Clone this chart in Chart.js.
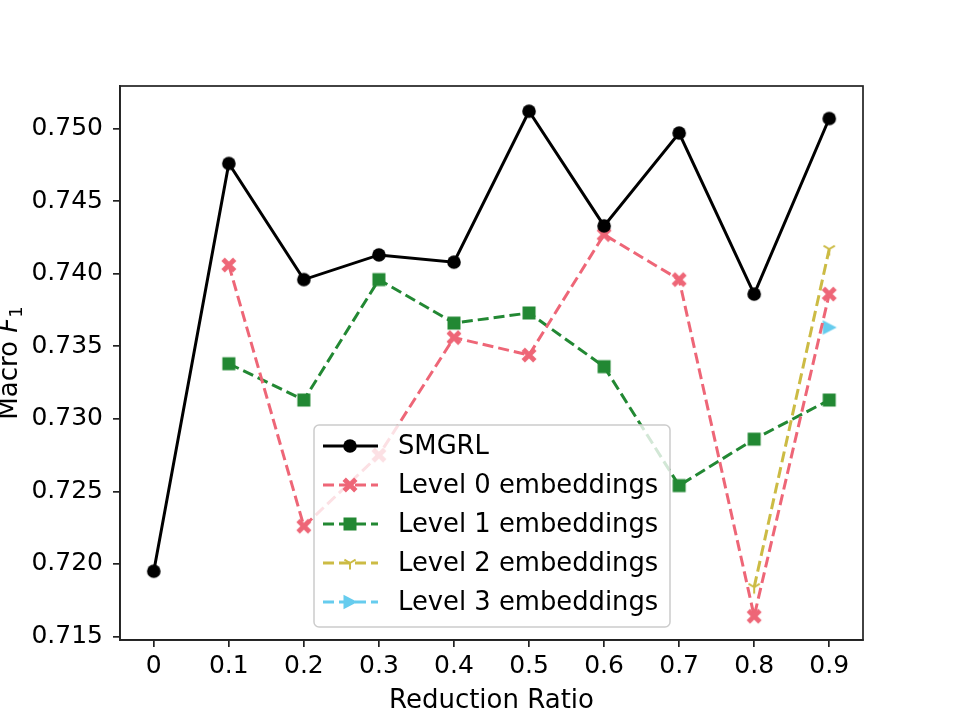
<!DOCTYPE html>
<html>
<head>
<meta charset="utf-8">
<script src="https://cdn.jsdelivr.net/npm/chart.js@4"></script>
<style>
  body { margin: 0; background: #fff; }
  #myChart { display: block; }
</style>
</head>
<body>
<canvas id="myChart" width="960" height="720"></canvas>
<script>
// values
const ratios = [0, 0.1, 0.2, 0.3, 0.4, 0.5, 0.6, 0.7, 0.8, 0.9];
const smgrl  = [0.7195, 0.7476, 0.7396, 0.7413, 0.7408, 0.7512, 0.7433, 0.7497, 0.7386, 0.7507];
const level0 = [null, 0.7406, 0.7226, 0.7275, 0.7356, 0.7344, 0.7427, 0.7396, 0.7164, 0.7386];
const level1 = [null, 0.7338, 0.7313, 0.7396, 0.7366, 0.7373, 0.7336, 0.7254, 0.7286, 0.7313];
const level2 = [null, null, null, null, null, null, null, null, 0.7184, 0.7417];
const level3 = [null, null, null, null, null, null, null, null, null, 0.7363];
const yTicks = [0.715, 0.720, 0.725, 0.730, 0.735, 0.740, 0.745, 0.750];
const seriesNames = ['SMGRL', 'Level 0 embeddings', 'Level 1 embeddings', 'Level 2 embeddings', 'Level 3 embeddings'];

const FONT = '"DejaVu Sans", sans-serif';

//little canvases used as point styles (matplotlib like markers)
function makeMarker(kind, color) {
    let c = document.createElement('canvas');
    c.width = 18; c.height = 18;
    let g = c.getContext('2d');
    g.fillStyle = color;
    g.strokeStyle = color;
    g.translate(9, 9);
    if (kind === 'circle') {
        g.beginPath();
        g.arc(0, 0, 6.8, 0, Math.PI * 2);
        g.fill();
    } else if (kind === 'square') {
        g.fillRect(-6.5, -6.5, 13, 13);
    } else if (kind === 'x') {
        g.lineWidth = 4.8;
        g.lineCap = 'butt';
        g.beginPath();
        g.moveTo(-5.8, -5.8); g.lineTo(5.8, 5.8);
        g.moveTo(5.8, -5.8); g.lineTo(-5.8, 5.8);
        g.stroke();
    } else if (kind === 'tri') {
        g.lineWidth = 2;
        g.beginPath();
        g.moveTo(0, 0); g.lineTo(0, 6.5);
        g.moveTo(0, 0); g.lineTo(-5.6, -3.3);
        g.moveTo(0, 0); g.lineTo(5.6, -3.3);
        g.stroke();
    } else if (kind === 'triright') {
        g.beginPath();
        g.moveTo(7.5, 0); g.lineTo(-6.5, -7.2); g.lineTo(-6.5, 7.2);
        g.closePath();
        g.fill();
    }
    return c;
}

const colors = ['#000000', '#EE6677', '#228833', '#CCBB44', '#66CCEE'];
const markers = [
    makeMarker('circle', colors[0]),
    makeMarker('x', colors[1]),
    makeMarker('square', colors[2]),
    makeMarker('tri', colors[3]),
    makeMarker('triright', colors[4])
];
const dashes = [[], [11, 5], [11, 5], [11, 5], [11, 5]];

function toPoints(values) {
    let pts = [];
    for (let i = 0; i < ratios.length; i++) {
        if (values[i] !== null) pts.push({ x: ratios[i], y: values[i] });
    }
    return pts;
}

const allSeries = [smgrl, level0, level1, level2, level3];
let datasets = [];
for (let i = 0; i < allSeries.length; i++) {
    datasets.push({
        label: seriesNames[i],
        data: toPoints(allSeries[i]),
        borderColor: colors[i],
        backgroundColor: colors[i],
        borderWidth: 3,
        borderDash: dashes[i],
        pointStyle: markers[i],
        pointRadius: 7,
        pointHoverRadius: 7,
        tension: 0,
        fill: false
    });
}

// frame, axis titles and the legend box
const extras = {
    id: 'extras',
    afterDatasetsDraw(chart) {
        const ctx = chart.ctx;
        const a = chart.chartArea;
        ctx.save();
        ctx.strokeStyle = '#222';
        ctx.lineWidth = 1.7;
        ctx.strokeRect(a.left, a.top, a.right - a.left, a.bottom - a.top);

        // legend
        let lx = 314, ly = 425, lw = 356, lh = 202;
        ctx.beginPath();
        ctx.roundRect(lx, ly, lw, lh, 5);
        ctx.fillStyle = 'rgba(255,255,255,0.8)';
        ctx.fill();
        ctx.strokeStyle = '#cccccc';
        ctx.lineWidth = 1.5;
        ctx.stroke();
        ctx.font = '25.8px ' + FONT;
        ctx.textBaseline = 'middle';
        ctx.textAlign = 'left';
        for (let i = 0; i < seriesNames.length; i++) {
            let yy = 446 + i * 39;
            ctx.strokeStyle = colors[i];
            ctx.lineWidth = 3;
            ctx.setLineDash(dashes[i]);
            ctx.beginPath();
            ctx.moveTo(323, yy);
            ctx.lineTo(378, yy);
            ctx.stroke();
            ctx.setLineDash([]);
            ctx.drawImage(markers[i], 350 - 9, yy - 9);
            ctx.fillStyle = '#000';
            ctx.fillText(seriesNames[i], 398, yy + 1);
        }

        // x title
        ctx.fillStyle = '#000';
        ctx.font = '26px ' + FONT;
        ctx.textAlign = 'center';
        ctx.textBaseline = 'middle';
        ctx.fillText('Reduction Ratio', (a.left + a.right) / 2, 701);

        // y title: Macro F_1 (sits partly off the left edge, like the reference)
        ctx.translate(16.5, (a.top + a.bottom) / 2);
        ctx.rotate(-Math.PI / 2);
        ctx.textBaseline = 'alphabetic';
        ctx.textAlign = 'left';
        ctx.font = '26px ' + FONT;
        let w1 = ctx.measureText('Macro ').width;
        ctx.font = 'italic 26px ' + FONT;
        let w2 = ctx.measureText('F').width;
        ctx.font = '18px ' + FONT;
        let w3 = ctx.measureText('1').width;
        let x0 = -(w1 + w2 + w3) / 2;
        ctx.font = '26px ' + FONT;
        ctx.fillText('Macro ', x0, 0);
        ctx.font = 'italic 26px ' + FONT;
        ctx.fillText('F', x0 + w1, 0);
        ctx.font = '18px ' + FONT;
        ctx.fillText('1', x0 + w1 + w2, 5);
        ctx.restore();
    }
};

const ctx = document.getElementById('myChart');
const myChart = new Chart(ctx, {
    type: 'line',
    data: { datasets: datasets },
    options: {
        responsive: false,
        devicePixelRatio: 1,
        animation: false,
        layout: { padding: { top: 86, right: 97, left: 0, bottom: 0 } },
        plugins: {
            legend: { display: false },
            tooltip: { enabled: false }
        },
        scales: {
            x: {
                type: 'linear',
                min: -0.045,
                max: 0.945,
                afterBuildTicks: (scale) => { scale.ticks = ratios.map(v => ({ value: v })); },
                afterFit: (scale) => { scale.height = 80; },
                ticks: {
                    color: '#000',
                    font: { family: FONT, size: 25 },
                    padding: 4,
                    maxRotation: 0,
                    autoSkip: false,
                    callback: (v) => v === 0 ? '0' : v.toFixed(1)
                },
                grid: { drawOnChartArea: false, drawTicks: true, tickLength: 7, color: '#222', lineWidth: 1.7 },
                border: { display: true, color: '#222', width: 1.7 }
            },
            y: {
                type: 'linear',
                min: 0.71476,
                max: 0.75294,
                afterBuildTicks: (scale) => { scale.ticks = yTicks.map(v => ({ value: v })); },
                afterFit: (scale) => { scale.width = 120; },
                ticks: {
                    color: '#000',
                    font: { family: FONT, size: 25 },
                    padding: 10,
                    autoSkip: false,
                    callback: (v) => v.toFixed(3)
                },
                grid: { drawOnChartArea: false, drawTicks: true, tickLength: 7, color: '#222', lineWidth: 1.7 },
                border: { display: true, color: '#222', width: 1.7 }
            }
        }
    },
    plugins: [extras]
});
</script>
</body>
</html>
